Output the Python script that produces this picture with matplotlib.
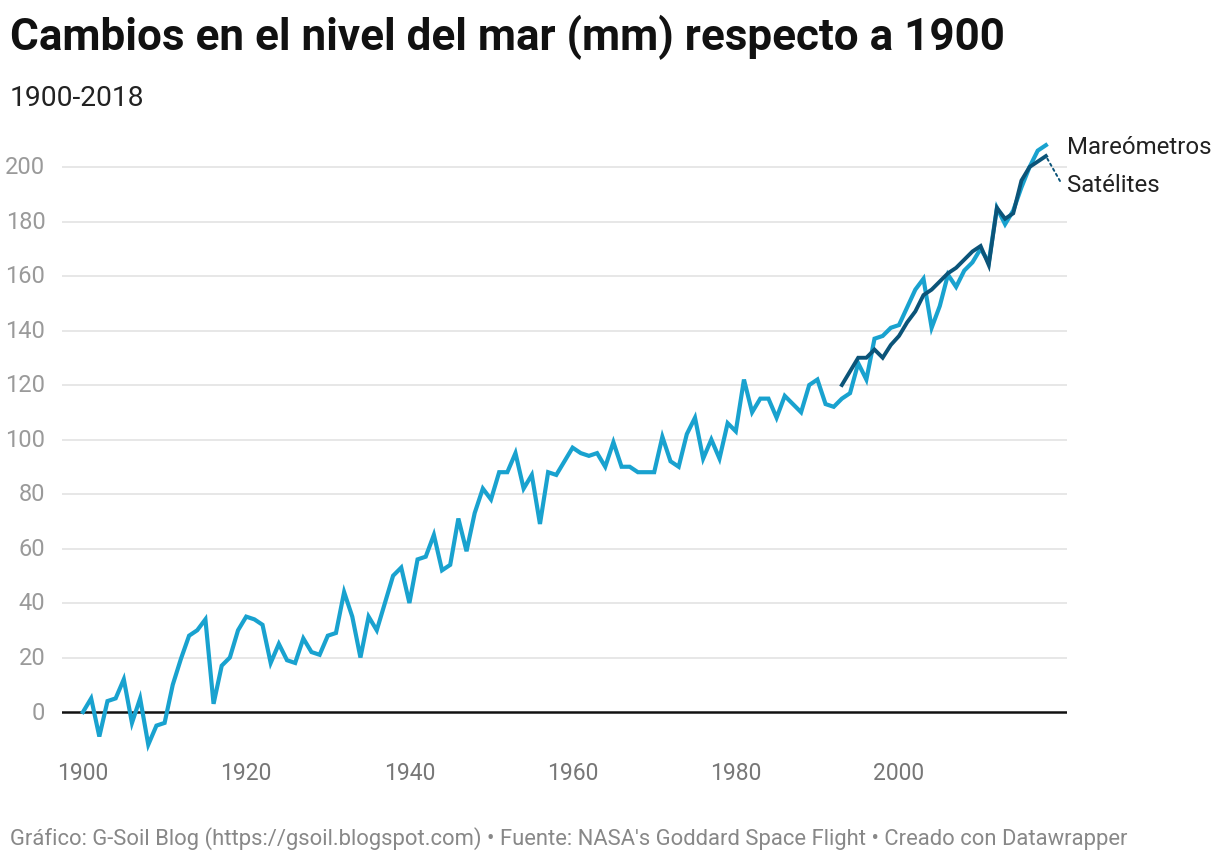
import matplotlib
matplotlib.use("Agg")
import matplotlib.pyplot as plt

years_tide = list(range(1900, 2019))
tide = [0, 5, -9, 4, 5, 12, -4, 5, -12, -5,
        -4, 10, 19.5, 28, 30, 34, 3, 17, 20, 30,
        35, 34, 32, 18, 25, 19, 18, 27, 22, 21,
        28, 29, 44, 35, 20, 35, 30, 40, 50, 53,
        40, 56, 57, 65, 52, 54, 71, 59, 73, 82,
        78, 88, 88, 95, 82, 87, 69, 88, 87, 92,
        97, 95, 94, 95, 90, 99, 90, 90, 88, 88,
        88, 101, 92, 90, 102, 108, 93, 100, 93, 106,
        103, 122, 110, 115, 115, 108, 116, 113, 110, 120,
        122, 113, 112, 115, 117, 128, 122, 137, 138, 141,
        142, 148.5, 155, 159, 141, 149, 160.5, 156, 162, 165,
        170, 165, 185, 179, 184, 192.5, 200, 206, 208]

years_sat = list(range(1993, 2019))
sat = [120, 125, 130, 130, 133, 130, 134.7, 138, 143, 147,
       153, 155, 158, 161, 163, 166, 169, 171, 164, 185,
       181, 183, 195, 200, 202, 204]

yticks = [0, 20, 40, 60, 80, 100, 120, 140, 160, 180, 200]
xticks = [1900, 1920, 1940, 1960, 1980, 2000]

title = "Cambios en el nivel del mar (mm) respecto a 1900"
subtitle = "1900-2018"
footer = "Gráfico: G-Soil Blog (https://gsoil.blogspot.com) • Fuente: NASA's Goddard Space Flight • Creado con Datawrapper"
label_tide = "Mareómetros"
label_sat = "Satélites"

light = "#19a2cf"
dark = "#0b5479"

plt.rcParams['font.family'] = ['Roboto', 'DejaVu Sans']

W, H = 1220, 862
fig = plt.figure(figsize=(W / 100, H / 100), dpi=100)
fig.patch.set_facecolor("white")

# axes layout in pixels
x0_px, x1_px = 62, 1067
px_per_year = 8.16
px_per_mm = 2.725
zero_px = 713
ylo, yhi = -15, 220
top_px = zero_px - yhi * px_per_mm
bot_px = zero_px - ylo * px_per_mm
ax = fig.add_axes([x0_px / W, 1 - bot_px / H, (x1_px - x0_px) / W, (bot_px - top_px) / H])
xlo = 1900 - (83 - x0_px) / px_per_year
xhi = 1900 + (x1_px - 83) / px_per_year
ax.set_xlim(xlo, xhi)
ax.set_ylim(ylo, yhi)

for s in ax.spines.values():
    s.set_visible(False)

for v in yticks:
    if v == 0:
        ax.axhline(v, color="#111111", lw=1.8, zorder=2)
    else:
        ax.axhline(v, color="#e3e3e3", lw=1.2, zorder=1)

ax.plot(years_tide, tide, color=light, lw=3.0, solid_joinstyle="miter", zorder=3)
ax.plot(years_sat, sat, color=dark, lw=2.8, solid_joinstyle="miter", zorder=4)

ax.set_yticks(yticks)
ax.set_yticklabels([str(v) for v in yticks])
ax.set_xticks(xticks)
ax.set_xticklabels([str(v) for v in xticks])
ax.tick_params(axis="y", length=0, pad=12, labelsize=17, labelcolor="#9a9a9a")
ax.tick_params(axis="x", length=0, pad=6, labelsize=16.5, labelcolor="#777777")
for lab in ax.get_yticklabels():
    lab.set_verticalalignment("center")

# direct labels
fig.text(x1_px / W, 1 - 148 / H, label_tide, fontsize=17.3, color="#222222",
         va="center", ha="left")
fig.text(x1_px / W, 1 - 186 / H, label_sat, fontsize=17.3, color="#222222",
         va="center", ha="left")
ax.annotate("", xy=(years_sat[-1], sat[-1]), xytext=(1060, H - 182),
            textcoords="figure pixels", annotation_clip=False,
            arrowprops=dict(arrowstyle="-", color=dark, lw=1.4, linestyle=(0, (1.2, 1.8)),
                            shrinkA=0, shrinkB=2))

fig.text(10 / W, 1 - 37 / H, title, fontsize=31.7, fontweight="bold", color="#111111",
         ha="left", va="center")
fig.text(10 / W, 1 - 99 / H, subtitle, fontsize=20.3, color="#222222",
         ha="left", va="center")
fig.text(10 / W, 1 - 839 / H, footer, fontsize=15.8, color="#888888",
         ha="left", va="center")

fig.savefig("out.png", dpi=100, facecolor="white")
